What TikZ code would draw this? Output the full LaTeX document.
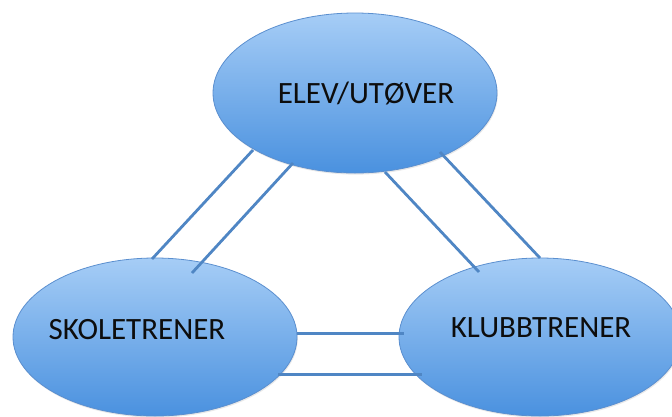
\documentclass[tikz,border=0pt]{standalone}
\usepackage{fontspec}
\setmainfont{Carlito}
\usetikzlibrary{shapes.geometric,shadows,calc}
\definecolor{bubtop}{HTML}{A6CDF6}
\definecolor{bubmid}{HTML}{80B3EE}
\definecolor{bubbot}{HTML}{4A91DF}
\definecolor{bubedge}{HTML}{5B8FCF}
\definecolor{linkblue}{HTML}{4F86C4}
\begin{document}
\begin{tikzpicture}[x=1pt,y=-1pt,
  bubble/.style={ellipse, draw=bubedge, line width=0.8pt, inner sep=0pt,
    top color=bubtop, middle color=bubmid, bottom color=bubbot,
    drop shadow={opacity=0.18, shadow xshift=0.8pt, shadow yshift=-1.6pt}},
  lbl/.style={font=\fontsize{31}{36}\selectfont, text=black!95, inner sep=0pt},
  link/.style={draw=linkblue, line width=2.8pt}]
\useasboundingbox (0,0) rectangle (672,416);
\begin{scope}
\clip (0,0) rectangle (672,416);
% the three roles
\node[bubble, minimum width=284pt, minimum height=160pt] (elev) at (355,93) {};
\node[bubble, minimum width=284pt, minimum height=158pt] (skol) at (155,337) {};
\node[bubble, minimum width=282pt, minimum height=158pt] (klub) at (540,337) {};
\node[lbl] (elevtxt) at ([xshift=11pt]elev.center) {ELEV/UTØVER};
\node[lbl] (skoltxt) at ([shift={(-18,-7)}]skol.center) {SKOLETRENER};
\node[lbl] (klubtxt) at ([shift={(1,-9)}]klub.center) {KLUBBTRENER};
% double connections between the roles
\draw[link] ([shift={(-102,57)}]elev.center) -- ([shift={(-3,-78)}]skol.center);
\draw[link] ([shift={(-62,70)}]elev.center) -- ([shift={(37,-64)}]skol.center);
\draw[link] ([shift={(30,79)}]elev.center) -- ([shift={(-61,-65)}]klub.center);
\draw[link] ([shift={(85,59)}]elev.center) -- ([shift={(0,-79)}]klub.center);
\draw[link] ([shift={(142,-3.5)}]skol.center) -- ([shift={(-136,-3.5)}]klub.center);
\draw[link] ([shift={(123,37.5)}]skol.center) -- ([shift={(-118,37.5)}]klub.center);
\end{scope}
\end{tikzpicture}
\end{document}
